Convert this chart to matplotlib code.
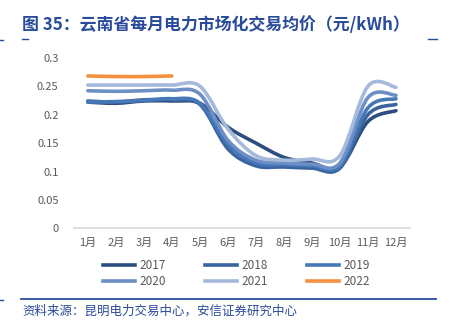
import matplotlib.pyplot as plt
from matplotlib.path import Path
from matplotlib.patches import PathPatch
from matplotlib.lines import Line2D
import numpy as np

plt.rcParams['font.family'] = ['Noto Sans CJK SC', 'DejaVu Sans']

months = ['1月', '2月', '3月', '4月', '5月', '6月', '7月', '8月', '9月', '10月', '11月', '12月']
years = ['2017', '2018', '2019', '2020', '2021', '2022']
p2017 = [0.222, 0.220, 0.224, 0.224, 0.220, 0.178, 0.150, 0.125, 0.115, 0.108, 0.188, 0.207]
p2018 = [0.224, 0.222, 0.226, 0.226, 0.218, 0.140, 0.110, 0.108, 0.106, 0.106, 0.200, 0.218]
p2019 = [0.222, 0.223, 0.225, 0.228, 0.220, 0.148, 0.115, 0.112, 0.110, 0.110, 0.212, 0.228]
p2020 = [0.242, 0.241, 0.242, 0.243, 0.236, 0.155, 0.120, 0.115, 0.113, 0.115, 0.230, 0.234]
p2021 = [0.252, 0.252, 0.252, 0.252, 0.250, 0.175, 0.128, 0.120, 0.122, 0.128, 0.250, 0.248]
p2022 = [0.268, 0.267, 0.267, 0.268]
series = [p2017, p2018, p2019, p2020, p2021, p2022]
colors = ['#2d4f7f', '#3a64a0', '#4677b6', '#6d8fc6', '#a5b9dc', '#f39140']


def smooth_path(xs, ys, t=0.5):
    # cubic bezier segments through every point (Catmull-Rom style)
    pts = np.column_stack([xs, ys])
    n = len(pts)
    verts = [pts[0]]
    codes = [Path.MOVETO]
    for i in range(n - 1):
        p0 = pts[max(i - 1, 0)]
        p1 = pts[i]
        p2 = pts[i + 1]
        p3 = pts[min(i + 2, n - 1)]
        c1 = p1 + (p2 - p0) * t / 3
        c2 = p2 - (p3 - p1) * t / 3
        verts += [c1, c2, p2]
        codes += [Path.CURVE4] * 3
    return Path(verts, codes)


fig = plt.figure(figsize=(4.53, 3.32), dpi=100)
ax = fig.add_axes([0.163, 0.312, 0.742, 0.514])

for vals, c in zip(series, colors):
    x = np.arange(len(vals))
    ax.add_patch(PathPatch(smooth_path(x, vals), facecolor='none', edgecolor=c,
                           lw=2.6, capstyle='round', joinstyle='round'))

ax.set_xlim(-0.5, 11.5)
ax.set_ylim(0, 0.3)
ax.set_xticks(range(12))
ax.set_xticklabels(months)
ax.set_yticks([0, 0.05, 0.1, 0.15, 0.2, 0.25, 0.3])
ax.set_yticklabels(['0', '0.05', '0.1', '0.15', '0.2', '0.25', '0.3'])
for s in ['top', 'right', 'left']:
    ax.spines[s].set_visible(False)
ax.spines['bottom'].set_color('#d9d9d9')
ax.spines['bottom'].set_linewidth(1.2)
ax.tick_params(length=0, labelsize=8, colors='#595959', pad=7)
ax.tick_params(axis='y', pad=11)

# legend fills column by column, so reorder to read row by row
order = [0, 3, 1, 4, 2, 5]
handles = [Line2D([], [], color=colors[i], lw=2.6) for i in order]
labels = [years[i] for i in order]
fig.legend(handles, labels, loc='center', bbox_to_anchor=(0.522, 0.176), ncol=3,
           frameon=False, fontsize=8.5, handlelength=2.7, handletextpad=0.4,
           columnspacing=3.3, labelspacing=0.2, labelcolor='#595959')

blue = '#2a4b9b'
fig.text(0.049, 0.925, '图 35：云南省每月电力市场化交易均价（元/kWh）', fontsize=12.2,
         fontweight='bold', color=blue, va='center')
fig.add_artist(Line2D([0.0, 0.006], [0.88, 0.88], color=blue, lw=1))
fig.add_artist(Line2D([0.049, 0.062], [0.882, 0.882], color=blue, lw=1))
fig.add_artist(Line2D([0.945, 0.965], [0.882, 0.882], color=blue, lw=1))
fig.add_artist(Line2D([0.0, 0.006], [0.095, 0.095], color=blue, lw=1))
fig.add_artist(Line2D([0.046, 0.962], [0.1, 0.1], color=blue, lw=1.3))
fig.text(0.05, 0.062, '资料来源：昆明电力交易中心，安信证券研究中心', fontsize=9,
         style='italic', color='#2a4b9b', va='center')

fig.savefig('out.png', dpi=100)
